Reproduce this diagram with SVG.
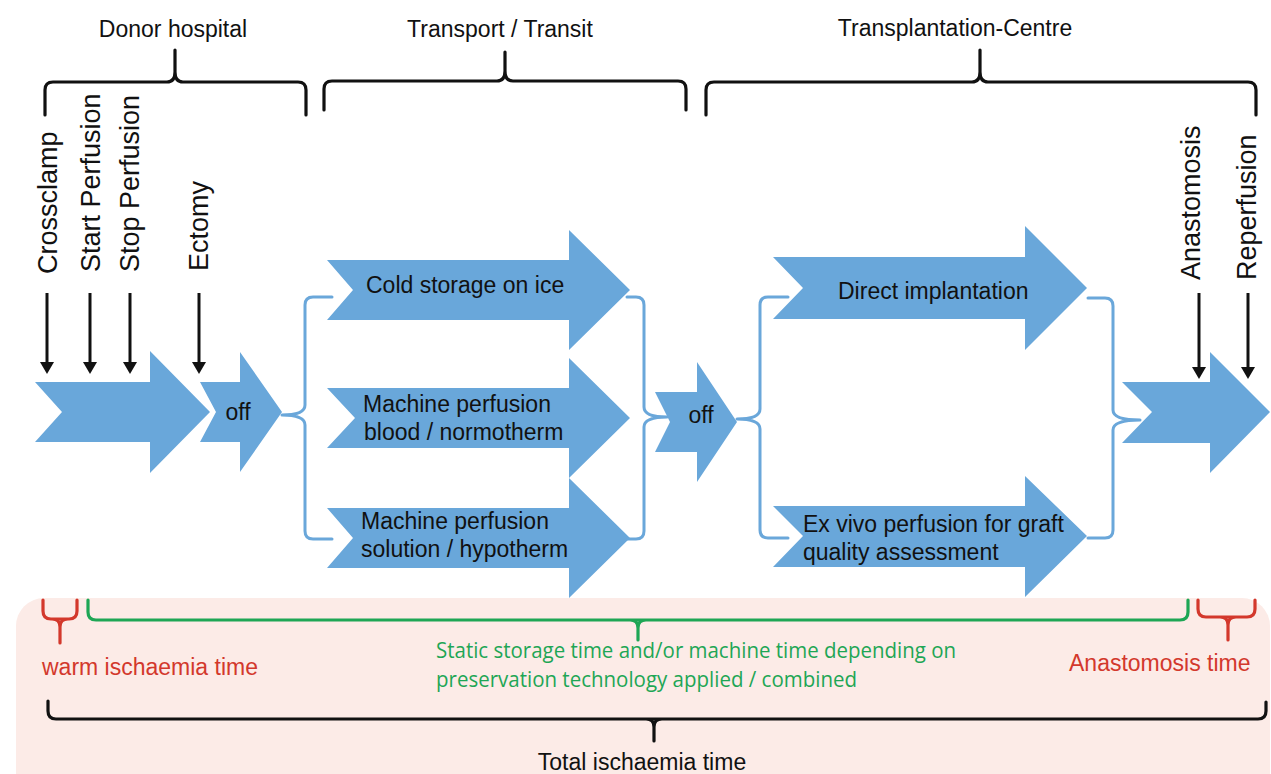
<svg xmlns="http://www.w3.org/2000/svg" width="1271" height="774" viewBox="0 0 1271 774">
  <defs>
    <marker id="ah" viewBox="0 0 12 14" refX="0" refY="7" markerWidth="12" markerHeight="14" markerUnits="userSpaceOnUse" orient="auto">
      <path d="M0,0 L12,7 L0,14 z" fill="#111"/>
    </marker>
    <style>
      .txt { font-family: "Liberation Sans", Arial, sans-serif; font-size: 23px; fill: #111; }
      .vtxt { font-family: "Liberation Sans", Arial, sans-serif; font-size: 27px; fill: #111; }
      .red { font-family: "Liberation Sans", Arial, sans-serif; font-size: 23px; fill: #d3382c; }
      .grn { font-family: "Open Sans", "Noto Sans", sans-serif; font-size: 21px; fill: #1ea655; }
      .arrow { fill: #69a7da; }
      .brace { fill: none; stroke: #111; stroke-width: 3.2; stroke-linecap: round; stroke-linejoin: round; }
      .bbrace { fill: none; stroke: #6aa7da; stroke-width: 3; stroke-linecap: round; stroke-linejoin: round; }
      .gbrace { fill: none; stroke: #1ea655; stroke-width: 3.2; stroke-linecap: round; }
      .rbrace { fill: none; stroke: #d3382c; stroke-width: 3.2; stroke-linecap: round; }
      .pin { stroke: #111; stroke-width: 3; fill: none; marker-end: url(#ah); }
    </style>
  </defs>

  <rect width="1271" height="774" fill="#ffffff"/>

  <!-- time band -->
  <rect id="time-band" x="16" y="598" width="1254" height="210" rx="28" fill="#fcebe7"/>

  <!-- phase braces along the top -->
  <g id="phase-donor">
    <path class="brace" d="M45,115 V90 Q45,82 53,82 H167 Q175,82 175,72 V50 M175,72 Q175,82 183,82 H298 Q306,82 306,90 V115"/>
    <text class="txt" x="173" y="37" text-anchor="middle">Donor hospital</text>
  </g>
  <g id="phase-transport">
    <path class="brace" d="M324,110 V89 Q324,81 332,81 H497 Q505,81 505,71 V52 M505,71 Q505,81 513,81 H678 Q686,81 686,89 V110"/>
    <text class="txt" x="500" y="37" text-anchor="middle">Transport / Transit</text>
  </g>
  <g id="phase-centre">
    <path class="brace" d="M706,115 V90 Q706,82 714,82 H972 Q980,82 980,72 V50 M980,72 Q980,82 988,82 H1248 Q1256,82 1256,90 V115"/>
    <text class="txt" x="955" y="36" text-anchor="middle">Transplantation-Centre</text>
  </g>

  <!-- event markers -->
  <g id="ev-crossclamp">
    <text class="vtxt" transform="translate(57,274) rotate(-90)">Crossclamp</text>
    <line class="pin" x1="47" y1="293" x2="47" y2="362"/>
  </g>
  <g id="ev-start-perfusion">
    <text class="vtxt" transform="translate(100,272) rotate(-90)">Start Perfusion</text>
    <line class="pin" x1="90" y1="293" x2="90" y2="362"/>
  </g>
  <g id="ev-stop-perfusion">
    <text class="vtxt" transform="translate(139,272) rotate(-90)">Stop Perfusion</text>
    <line class="pin" x1="130" y1="293" x2="130" y2="362"/>
  </g>
  <g id="ev-ectomy">
    <text class="vtxt" transform="translate(208,271) rotate(-90)">Ectomy</text>
    <line class="pin" x1="199" y1="293" x2="199" y2="362"/>
  </g>
  <g id="ev-anastomosis">
    <text class="vtxt" transform="translate(1200,280) rotate(-90)">Anastomosis</text>
    <line class="pin" x1="1199" y1="293" x2="1199" y2="367"/>
  </g>
  <g id="ev-reperfusion">
    <text class="vtxt" transform="translate(1256,280) rotate(-90)">Reperfusion</text>
    <line class="pin" x1="1248" y1="293" x2="1248" y2="367"/>
  </g>

  <!-- branch connectors -->
  <g id="connectors">
    <path class="bbrace" d="M332,297 H313 Q305,297 305,305 V405 Q305,415 282,415 Q305,415 305,425 V531 Q305,539 313,539 H332"/>
    <path class="bbrace" d="M627,297 H636 Q644,297 644,305 V407 Q644,417 667,417 Q644,417 644,427 V531 Q644,539 636,539 H627"/>
    <path class="bbrace" d="M788,297 H768 Q760,297 760,305 V409 Q760,419 737,419 Q760,419 760,429 V530 Q760,538 768,538 H788"/>
    <path class="bbrace" d="M1088,298 H1105 Q1113,298 1113,306 V410 Q1113,420 1140,420 Q1113,420 1113,430 V530 Q1113,538 1105,538 H1088"/>
  </g>

  <!-- process steps -->
  <g id="step-donor">
    <polygon class="arrow" points="35,382 150,382 150,351 210,412 150,473 150,442 35,442 62,412"/>
  </g>
  <g id="step-off-1">
    <polygon class="arrow" points="200,382 240,382 240,352 282,412 240,472 240,442 200,442 216,412"/>
    <text class="txt" x="238" y="420" text-anchor="middle">off</text>
  </g>
  <g id="step-cold-storage">
    <polygon class="arrow" points="327,260 569,260 569,230 630,290 569,350 569,320 327,320 353,290"/>
    <text class="txt" x="366" y="293">Cold storage on ice</text>
  </g>
  <g id="step-normotherm">
    <polygon class="arrow" points="327,388 569,388 569,358 630,418 569,478 569,448 327,448 355,418"/>
    <text class="txt" x="363" y="412">Machine perfusion</text>
    <text class="txt" x="364" y="440">blood / normotherm</text>
  </g>
  <g id="step-hypotherm">
    <polygon class="arrow" points="327,508 569,508 569,478 630,538 569,598 569,568 327,568 353,538"/>
    <text class="txt" x="361" y="529">Machine perfusion</text>
    <text class="txt" x="361" y="557">solution / hypotherm</text>
  </g>
  <g id="step-off-2">
    <polygon class="arrow" points="655,392 697,392 697,362 737,422 697,482 697,452 655,452 670,422"/>
    <text class="txt" x="701" y="423" text-anchor="middle">off</text>
  </g>
  <g id="step-direct">
    <polygon class="arrow" points="773,257 1025,257 1025,226 1087,288 1025,350 1025,319 773,319 803,288"/>
    <text class="txt" x="838" y="299">Direct implantation</text>
  </g>
  <g id="step-ex-vivo">
    <polygon class="arrow" points="773,506 1025,506 1025,476 1087,536 1025,597 1025,567 773,567 803,536"/>
    <text class="txt" x="803" y="532">Ex vivo perfusion for graft</text>
    <text class="txt" x="803" y="560">quality assessment</text>
  </g>
  <g id="step-recipient">
    <polygon class="arrow" points="1122,382 1210,382 1210,352 1270,412 1210,473 1210,443 1122,443 1152,412"/>
  </g>

  <!-- time spans -->
  <g id="span-warm">
    <path class="rbrace" d="M43,600 V611 Q43,619 51,619 H69 Q77,619 77,611 V600 M52,619 Q60,619 60,627 V643 M68,619 Q60,619 60,627"/>
    <text class="red" x="42" y="675">warm ischaemia time</text>
  </g>
  <g id="span-storage">
    <path class="gbrace" d="M88,600 V612 Q88,620 96,620 H1180 Q1188,620 1188,612 V600 M630,620 Q638,620 638,628 V640 M646,620 Q638,620 638,628"/>
    <text class="grn" x="436" y="658" textLength="520" lengthAdjust="spacingAndGlyphs">Static storage time and/or machine time depending on</text>
    <text class="grn" x="436" y="687" textLength="421" lengthAdjust="spacingAndGlyphs">preservation technology applied / combined</text>
  </g>
  <g id="span-anastomosis">
    <path class="rbrace" d="M1198,600 V609 Q1198,617 1206,617 H1247 Q1255,617 1255,609 V600 M1220,617 Q1228,617 1228,625 V640 M1236,617 Q1228,617 1228,625"/>
    <text class="red" x="1069" y="671">Anastomosis time</text>
  </g>
  <g id="span-total">
    <path class="brace" d="M48,701 V711 Q48,719 56,719 H1258 Q1266,719 1266,711 V702 M646,719 Q654,719 654,727 V741 M662,719 Q654,719 654,727"/>
    <text class="txt" x="642" y="770" text-anchor="middle">Total ischaemia time</text>
  </g>
</svg>
